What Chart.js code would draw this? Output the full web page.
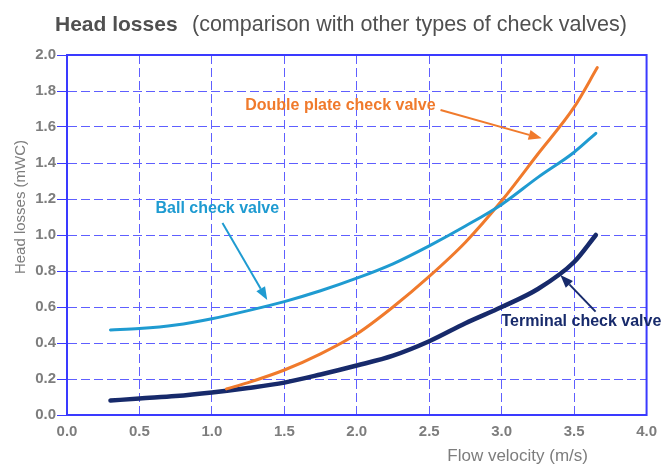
<!DOCTYPE html>
<html lang="en">
<head>
    <meta charset="UTF-8">
    <title>Head losses</title>
    <script src="https://cdn.jsdelivr.net/npm/chart.js"></script>
    <style>
        body { margin: 0; background: #fff; }
        #wrap { width: 665px; height: 464px; }
    </style>
</head>
<body>
    <div id="wrap">
        <canvas id="lossChart" width="665" height="464"></canvas>
    </div>

    <script>
        // Data (x = flow velocity m/s, y = head loss mWC)
        const ballX = [0.3, 0.5, 0.75, 1.0, 1.25, 1.5, 1.75, 2.0, 2.25, 2.5, 2.75, 3.0, 3.25, 3.5, 3.65];
        const ballY = [0.472, 0.48, 0.5, 0.535, 0.58, 0.63, 0.69, 0.76, 0.84, 0.94, 1.05, 1.17, 1.32, 1.46, 1.565];

        const doubleX = [1.1, 1.25, 1.5, 1.75, 2.0, 2.25, 2.5, 2.75, 3.0, 3.25, 3.5, 3.66];
        const doubleY = [0.145, 0.18, 0.25, 0.34, 0.45, 0.6, 0.77, 0.96, 1.19, 1.45, 1.71, 1.93];

        const terminalX = [0.3, 0.5, 0.75, 1.0, 1.25, 1.5, 1.75, 2.0, 2.25, 2.5, 2.75, 3.0, 3.25, 3.5, 3.65];
        const terminalY = [0.08, 0.092, 0.105, 0.125, 0.15, 0.18, 0.225, 0.275, 0.33, 0.41, 0.51, 0.6, 0.7, 0.85, 1.0];

        const xTicks = [0, 0.5, 1.0, 1.5, 2.0, 2.5, 3.0, 3.5, 4.0];
        const yTicks = [0, 0.2, 0.4, 0.6, 0.8, 1.0, 1.2, 1.4, 1.6, 1.8, 2.0];

        const BLUE = '#3a3aff';
        const GRID = '#5f5fff';
        const GRAY = '#7d7d7d';
        const C_BALL = '#1f9bd1';
        const C_DOUBLE = '#f07a2c';
        const C_TERM = '#172a6b';
        const FONT = 'Arial, "Liberation Sans", sans-serif';

        function pts(xs, ys) {
            return xs.map((x, i) => ({ x: x, y: ys[i] }));
        }

        // labels with arrows, in data coordinates
        const notes = [
            { text: 'Double plate check valve', color: C_DOUBLE, x: 1.23, y: 1.718, from: [2.578, 1.694], to: [3.276, 1.537] },
            { text: 'Ball check valve', color: C_BALL, x: 0.611, y: 1.144, from: [1.073, 1.067], to: [1.382, 0.639] },
            { text: 'Terminal check valve', color: C_TERM, x: 2.999, y: 0.517, from: [3.648, 0.574], to: [3.405, 0.778] }
        ];

        function arrow(ctx, x1, y1, x2, y2, color) {
            const ang = Math.atan2(y2 - y1, x2 - x1);
            const head = 13, half = 5;
            ctx.save();
            ctx.strokeStyle = color;
            ctx.fillStyle = color;
            ctx.lineWidth = 2;
            ctx.beginPath();
            ctx.moveTo(x1, y1);
            ctx.lineTo(x2 - Math.cos(ang) * head, y2 - Math.sin(ang) * head);
            ctx.stroke();
            ctx.beginPath();
            ctx.moveTo(x2, y2);
            ctx.lineTo(x2 - Math.cos(ang) * head - Math.sin(ang) * half, y2 - Math.sin(ang) * head + Math.cos(ang) * half);
            ctx.lineTo(x2 - Math.cos(ang) * head + Math.sin(ang) * half, y2 - Math.sin(ang) * head - Math.cos(ang) * half);
            ctx.closePath();
            ctx.fill();
            ctx.restore();
        }

        const decor = {
            id: 'decor',
            afterDraw(chart) {
                const ctx = chart.ctx;
                const a = chart.chartArea;
                const xs = chart.scales.x, ys = chart.scales.y;

                // solid frame
                ctx.save();
                ctx.strokeStyle = BLUE;
                ctx.lineWidth = 2;
                ctx.strokeRect(a.left, a.top, a.right - a.left, a.bottom - a.top);
                ctx.restore();

                // title
                ctx.save();
                ctx.textBaseline = 'middle';
                ctx.fillStyle = '#505050';
                ctx.font = 'bold 21px ' + FONT;
                ctx.fillText('Head losses', 55, 25);
                ctx.font = '21.5px ' + FONT;
                ctx.fillText('(comparison with other types of check valves)', 192, 25);

                // axis titles
                ctx.fillStyle = GRAY;
                ctx.font = '17px ' + FONT;
                ctx.textAlign = 'right';
                ctx.fillText('Flow velocity (m/s)', 588, 456);
                ctx.font = '15px ' + FONT;
                ctx.translate(21, 207);
                ctx.rotate(-Math.PI / 2);
                ctx.textAlign = 'center';
                ctx.fillText('Head losses (mWC)', 0, 0);
                ctx.restore();

                // curve labels
                ctx.save();
                ctx.font = 'bold 16px ' + FONT;
                ctx.textBaseline = 'middle';
                notes.forEach(n => {
                    ctx.fillStyle = n.color;
                    ctx.fillText(n.text, xs.getPixelForValue(n.x), ys.getPixelForValue(n.y));
                    arrow(ctx,
                        xs.getPixelForValue(n.from[0]), ys.getPixelForValue(n.from[1]),
                        xs.getPixelForValue(n.to[0]), ys.getPixelForValue(n.to[1]), n.color);
                });
                ctx.restore();
            }
        };

        const ctx = document.getElementById('lossChart').getContext('2d');
        const lossChart = new Chart(ctx, {
            type: 'line',
            data: {
                datasets: [
                    { label: 'Ball check valve', data: pts(ballX, ballY), borderColor: C_BALL, borderWidth: 3 },
                    { label: 'Double plate check valve', data: pts(doubleX, doubleY), borderColor: C_DOUBLE, borderWidth: 3 },
                    { label: 'Terminal check valve', data: pts(terminalX, terminalY), borderColor: C_TERM, borderWidth: 4.5 }
                ]
            },
            options: {
                responsive: false,
                animation: false,
                layout: { padding: { left: 0, right: 17, top: 55, bottom: 0 } },
                elements: {
                    point: { radius: 0 },
                    line: { cubicInterpolationMode: 'monotone', borderCapStyle: 'round', fill: false }
                },
                plugins: {
                    legend: { display: false },
                    tooltip: { enabled: false }
                },
                scales: {
                    x: {
                        type: 'linear',
                        min: 0,
                        max: 4,
                        afterBuildTicks: s => { s.ticks = xTicks.map(v => ({ value: v })); },
                        afterFit: s => { s.height = 49; },
                        ticks: {
                            color: GRAY,
                            padding: 8,
                            font: { family: FONT, size: 15, weight: 'bold' },
                            callback: v => v.toFixed(1),
                            maxRotation: 0
                        },
                        grid: { color: GRID, lineWidth: 1, drawTicks: false },
                        border: { display: true, color: BLUE, width: 2, dash: [9, 4] }
                    },
                    y: {
                        min: 0,
                        max: 2,
                        afterBuildTicks: s => { s.ticks = yTicks.map(v => ({ value: v })); },
                        afterFit: s => { s.width = 67; },
                        ticks: {
                            color: GRAY,
                            padding: 1,
                            font: { family: FONT, size: 15, weight: 'bold' },
                            callback: v => v.toFixed(1)
                        },
                        grid: { color: GRID, lineWidth: 1, tickLength: 10, tickColor: BLUE },
                        border: { display: true, color: BLUE, width: 2, dash: [9, 4] }
                    }
                }
            },
            plugins: [decor]
        });
    </script>
</body>
</html>
